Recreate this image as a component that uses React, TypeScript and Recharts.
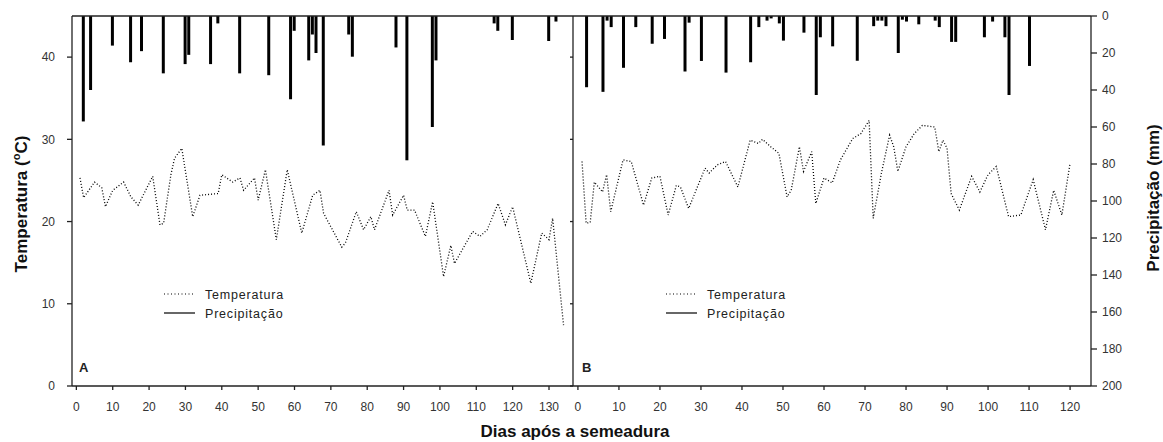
import React from "react";
import { ComposedChart, Line, Bar, XAxis, YAxis, ReferenceLine } from "recharts";

// Panel A - temperature (day, °C) read at the turning points of the dotted line
const tempDaysA = [1, 2, 5, 7, 8, 10, 13, 15, 17, 21, 23, 24, 26, 27, 29, 32, 34, 39, 40, 43, 45, 46, 49, 50, 52, 55, 58, 62, 65, 67, 68, 73, 74, 77, 79, 81, 82, 86, 87, 90, 91, 93, 96, 98, 101, 103, 104, 109, 111, 113, 116, 118, 120, 125, 128, 130, 131, 134];
const tempA = [25.3, 22.9, 24.8, 24.1, 21.8, 23.8, 24.8, 23.0, 22.0, 25.5, 19.6, 19.8, 25.7, 27.7, 28.9, 20.6, 23.2, 23.4, 25.7, 24.8, 25.3, 23.8, 25.3, 22.6, 26.3, 17.8, 26.3, 18.6, 23.2, 23.8, 21.0, 16.9, 17.4, 21.2, 19.0, 20.6, 19.0, 23.8, 20.8, 23.2, 21.4, 21.4, 18.2, 22.4, 13.3, 17.1, 14.9, 18.8, 18.2, 19.0, 22.2, 19.6, 21.8, 12.5, 18.6, 17.8, 20.4, 7.4];

// Panel A - precipitation (day, mm)
const rainDaysA = [2, 4, 10, 15, 18, 24, 30, 31, 37, 39, 45, 53, 59, 60, 64, 65, 66, 68, 75, 76, 88, 91, 98, 99, 115, 116, 120, 130, 132];
const rainA = [57, 40, 16, 25, 19, 31, 26, 21, 26, 4, 31, 32, 45, 8, 24, 10, 20, 70, 10, 22, 17, 78, 60, 24, 4, 8, 13, 13.5, 3];

// Panel B - temperature
const tempDaysB = [1, 2, 3, 4, 6, 7, 8, 11, 13, 16, 18, 20, 22, 24, 25, 27, 31, 32, 34, 36, 39, 42, 44, 45, 47, 49, 51, 52, 54, 55, 57, 58, 60, 62, 64, 67, 69, 71, 72, 74, 76, 77, 78, 80, 82, 84, 87, 88, 89, 90, 91, 93, 96, 98, 100, 102, 105, 108, 111, 114, 116, 118, 120];
const tempB = [27.3, 19.8, 19.9, 24.8, 23.6, 25.7, 21.2, 27.5, 27.3, 22.0, 25.3, 25.5, 20.8, 24.4, 24.2, 21.6, 26.5, 25.9, 26.9, 27.3, 24.2, 29.9, 29.5, 30.0, 29.1, 28.3, 23.0, 23.8, 29.1, 26.1, 28.5, 22.2, 25.3, 24.7, 27.5, 30.1, 30.7, 32.3, 20.4, 25.9, 30.5, 29.1, 26.1, 29.1, 30.7, 31.7, 31.5, 28.5, 29.9, 28.9, 23.4, 21.4, 25.5, 23.6, 25.7, 26.7, 20.6, 20.8, 25.1, 19.0, 23.8, 20.8, 27.1];

// Panel B - precipitation
const rainDaysB = [2, 6, 7, 8, 11, 14, 18, 21, 26, 27, 30, 36, 42, 44, 46, 47, 49, 50, 55, 58, 59, 62, 68, 72, 73, 74, 75, 78, 79, 80, 83, 87, 88, 91, 92, 99, 101, 104, 105, 110];
const rainB = [38.5, 41, 2.5, 6, 28, 6, 15, 12.4, 30, 3.6, 24.3, 30.6, 25, 6, 2.5, 1.3, 4, 13.3, 9, 42.7, 11.5, 16.4, 24.2, 5.5, 2.5, 2.5, 5.5, 20, 2, 3, 4.5, 2.5, 6, 14, 14, 11.5, 3, 11.5, 42.7, 27];

const dayTicksA = [0, 10, 20, 30, 40, 50, 60, 70, 80, 90, 100, 110, 120, 130];
const dayTicksB = [0, 10, 20, 30, 40, 50, 60, 70, 80, 90, 100, 110, 120];
const tempTicks = [0, 10, 20, 30, 40];
const rainTicks = [0, 20, 40, 60, 80, 100, 120, 140, 160, 180, 200];

type Row = { day: number; temp?: number; rain?: number };

function buildRows(tDays: number[], tVals: number[], rDays: number[], rVals: number[]): Row[] {
  const map = new Map<number, Row>();
  tDays.forEach((d, i) => {
    const r = map.get(d) ?? { day: d };
    r.temp = tVals[i];
    map.set(d, r);
  });
  rDays.forEach((d, i) => {
    const r = map.get(d) ?? { day: d };
    r.rain = rVals[i];
    map.set(d, r);
  });
  return [...map.values()].sort((a, b) => a.day - b.day);
}

const rowsA = buildRows(tempDaysA, tempA, rainDaysA, rainA);
const rowsB = buildRows(tempDaysB, tempB, rainDaysB, rainB);

const FONT = "'Liberation Sans', Arial, sans-serif";
const AXIS = "#222";
const tickStyle = { fontSize: 12, fill: "#333", fontFamily: FONT };

const LegendBox = ({ left }: { left: number }) => (
  <svg style={{ position: "absolute", left, top: 284 }} width={140} height={40}>
    <line x1={0} y1={10} x2={31} y2={10} stroke="#000" strokeWidth={1.2} strokeDasharray="1 2.5" />
    <line x1={0} y1={29} x2={31} y2={29} stroke="#000" strokeWidth={1.2} />
    <text x={41} y={14.5} fontSize={12.5} letterSpacing={0.8} fill="#222" fontFamily={FONT}>
      Temperatura
    </text>
    <text x={41} y={33.5} fontSize={12.5} letterSpacing={0.8} fill="#222" fontFamily={FONT}>
      Precipitação
    </text>
  </svg>
);

export default function App() {
  return (
    <div style={{ position: "absolute", left: 0, top: 0, width: 1163, height: 442, background: "#fff", fontFamily: FONT }}>
      <div style={{ position: "absolute", left: 0, top: 0 }}>
        <ComposedChart width={578} height={442} data={rowsA} margin={{ top: 16, right: 5, bottom: 26, left: 32 }}>
          <XAxis
            dataKey="day"
            type="number"
            domain={[-1.2, 136.6]}
            allowDataOverflow
            ticks={dayTicksA}
            interval={0}
            stroke={AXIS}
            strokeWidth={1.3}
            tickSize={4}
            tickMargin={12}
            tick={tickStyle}
            height={30}
          />
          <YAxis
            yAxisId="t"
            domain={[0, 45]}
            ticks={tempTicks}
            allowDataOverflow
            width={40}
            stroke={AXIS}
            strokeWidth={1.3}
            tickSize={5}
            tickMargin={12}
            tick={tickStyle}
          />
          <YAxis yAxisId="p" orientation="right" reversed domain={[0, 200]} hide />
          <ReferenceLine yAxisId="t" y={45} stroke={AXIS} strokeWidth={1.3} />
          <Bar yAxisId="p" dataKey="rain" fill="#000" barSize={3} isAnimationActive={false} />
          <Line
            yAxisId="t"
            dataKey="temp"
            type="linear"
            stroke="#000"
            strokeWidth={1.3}
            strokeDasharray="1 2"
            dot={false}
            activeDot={false}
            connectNulls
            isAnimationActive={false}
          />
        </ComposedChart>
      </div>
      <div style={{ position: "absolute", left: 560, top: 0 }}>
        <ComposedChart width={603} height={442} data={rowsB} margin={{ top: 16, right: 30, bottom: 26, left: 0 }}>
          <XAxis
            dataKey="day"
            type="number"
            domain={[-1.2, 125.1]}
            allowDataOverflow
            ticks={dayTicksB}
            interval={0}
            stroke={AXIS}
            strokeWidth={1.3}
            tickSize={4}
            tickMargin={12}
            tick={tickStyle}
            height={30}
          />
          <YAxis
            yAxisId="t"
            domain={[0, 45]}
            ticks={tempTicks}
            allowDataOverflow
            width={13}
            stroke={AXIS}
            strokeWidth={1.3}
            tickSize={3}
            tickFormatter={() => ""}
          />
          <YAxis
            yAxisId="p"
            orientation="right"
            reversed
            domain={[0, 200]}
            ticks={rainTicks}
            interval={0}
            width={42}
            stroke={AXIS}
            strokeWidth={1.3}
            tickSize={6}
            tickMargin={5}
            tick={tickStyle}
          />
          <ReferenceLine yAxisId="t" y={45} stroke={AXIS} strokeWidth={1.3} />
          <Bar yAxisId="p" dataKey="rain" fill="#000" barSize={3} isAnimationActive={false} />
          <Line
            yAxisId="t"
            dataKey="temp"
            type="linear"
            stroke="#000"
            strokeWidth={1.3}
            strokeDasharray="1 2"
            dot={false}
            activeDot={false}
            connectNulls
            isAnimationActive={false}
          />
        </ComposedChart>
      </div>

      <LegendBox left={164} />
      <LegendBox left={666} />

      <div style={{ position: "absolute", left: 79, top: 360, fontSize: 13, fontWeight: "bold", color: "#222" }}>A</div>
      <div style={{ position: "absolute", left: 582, top: 360, fontSize: 13, fontWeight: "bold", color: "#222" }}>B</div>

      <div
        style={{
          position: "absolute",
          left: 21,
          top: 204,
          transform: "translate(-50%, -50%) rotate(-90deg)",
          whiteSpace: "nowrap",
          fontSize: 17,
          fontWeight: "bold",
          color: "#111",
        }}
      >
        Temperatura (<sup style={{ fontSize: 11 }}>o</sup>C)
      </div>
      <div
        style={{
          position: "absolute",
          left: 1154,
          top: 198,
          transform: "translate(-50%, -50%) rotate(-90deg)",
          whiteSpace: "nowrap",
          fontSize: 17,
          fontWeight: "bold",
          color: "#111",
        }}
      >
        Precipitação (mm)
      </div>
      <div
        style={{
          position: "absolute",
          left: 575,
          top: 432,
          transform: "translate(-50%, -50%)",
          whiteSpace: "nowrap",
          fontSize: 17,
          fontWeight: "bold",
          color: "#111",
        }}
      >
        Dias após a semeadura
      </div>
    </div>
  );
}
